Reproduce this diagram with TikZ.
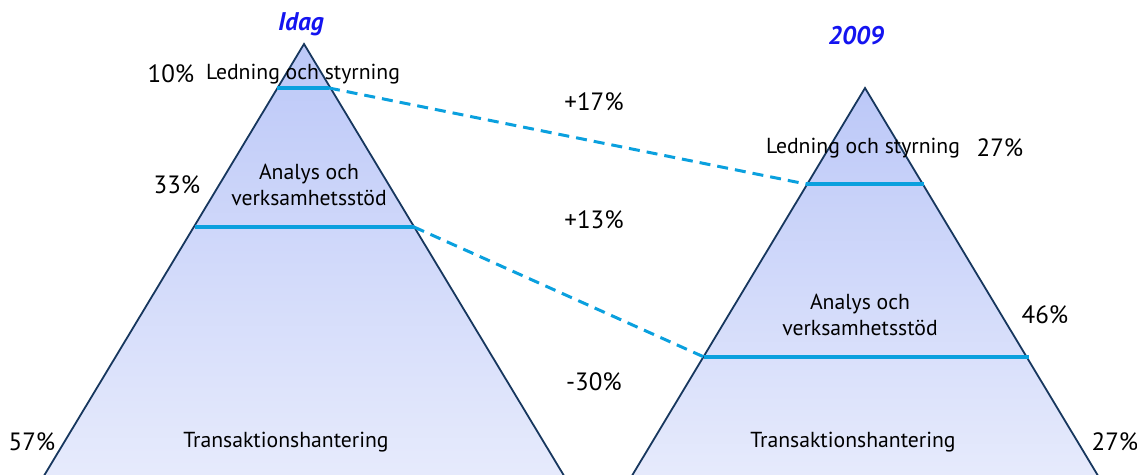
\documentclass[tikz,border=0pt]{standalone}
\usepackage{fontspec}
\setmainfont{PT Sans}
\definecolor{navy}{RGB}{23,55,94}
\definecolor{cyanline}{RGB}{10,160,222}
\definecolor{titleblue}{RGB}{20,20,240}
\definecolor{topfill}{RGB}{188,200,248}
\definecolor{botfill}{RGB}{232,236,252}
\tikzset{
  pyr/.style={draw=navy, line width=1.8pt, top color=topfill, bottom color=botfill},
  levelline/.style={draw=cyanline, line width=3.4pt},
  shiftline/.style={draw=cyanline, line width=3pt, dash pattern=on 11pt off 7pt},
  lbl/.style={font=\fontsize{21.7}{26.5}\selectfont, text=black, inner sep=0pt, align=center},
  pct/.style={font=\fontsize{25}{28}\selectfont, text=black, inner sep=0pt},
  ttl/.style={font=\fontsize{25.5}{28}\selectfont\bfseries\itshape, text=titleblue, inner sep=0pt}
}
\begin{document}
\begin{tikzpicture}[x=1pt,y=-1pt]
\useasboundingbox (0,0) rectangle (1137,474);
\begin{scope}
\clip (0,0) rectangle (1137,474);
% pyramids
\path[pyr] (304,44) -- (33,494) -- (575,494) -- cycle;
\path[pyr] (865,88) -- (621,494) -- (1109,494) -- cycle;
\end{scope}
% level lines
\coordinate (l1a) at (277,88);  \coordinate (l1b) at (329,88);
\coordinate (l2a) at (195,227); \coordinate (l2b) at (414,227);
\coordinate (r1a) at (806,184); \coordinate (r1b) at (924,184);
\coordinate (r2a) at (704,357); \coordinate (r2b) at (1029,357);
\draw[levelline] (l1a) -- (l1b);
\draw[levelline] (l2a) -- (l2b);
\draw[levelline] (r1a) -- (r1b);
\draw[levelline] (r2a) -- (r2b);
\draw[shiftline] (l1b) -- (r1a);
\draw[shiftline] (l2b) -- (r2a);
% titles
\node[ttl] (tidag) at (301,24) {Idag};
\node[ttl] (t2009) at (856,36) {2009};
% left labels
\node[pct] (p10) at (171,74) {10\%};
\node[lbl] (lled) at (303,74) {Ledning och styrning};
\node[pct] (p33) at (177,185) {33\%};
\node[lbl] (lana) at (309,185) {Analys och\\verksamhetsstöd};
\node[pct] (p57) at (32,442) {57\%};
\node[lbl] (ltra) at (286,442) {Transaktionshantering};
% middle
\node[pct] (d17) at (594,102) {+17\%};
\node[pct] (d13) at (594,220) {+13\%};
\node[pct] (d30) at (594,382) {-30\%};
% right labels
\node[lbl] (rled) at (863,148) {Ledning och styrning};
\node[pct] (p27a) at (1000,148) {27\%};
\node[lbl] (rana) at (860,315) {Analys och\\verksamhetsstöd};
\node[pct] (p46) at (1045,315) {46\%};
\node[lbl] (rtra) at (853,442) {Transaktionshantering};
\node[pct] (p27b) at (1115,442) {27\%};
\end{tikzpicture}
\end{document}
